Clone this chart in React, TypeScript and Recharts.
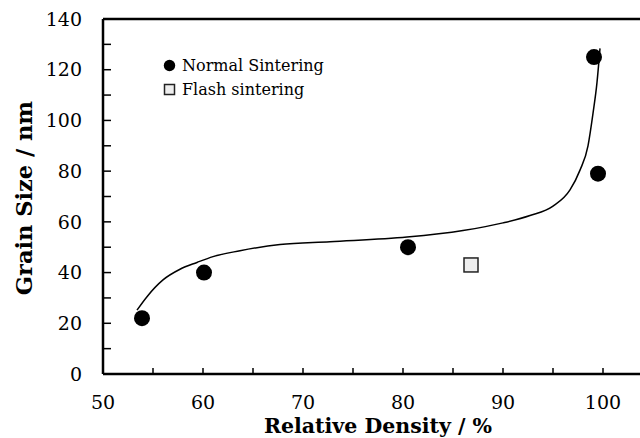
import {
  ComposedChart,
  XAxis,
  YAxis,
  Scatter,
  Line,
  ReferenceLine,
  Label,
} from "recharts";

// measured points
const normalDensity = [53.9, 60.1, 80.5, 99.1, 99.5];
const normalGrain = [22, 40, 50, 125, 79];
const flashDensity = [86.8];
const flashGrain = [43];

// trendline as drawn in the figure
const trendDensity = [53.4, 54.4, 56, 57.7, 59.4, 61, 63.7, 67.7, 72.7, 80.4, 86, 90, 92.7, 95, 96.7, 97.7, 98.5, 99, 99.4, 99.7];
const trendGrain = [25.2, 30.5, 37.1, 41.3, 44, 46.3, 48.6, 51.1, 52.2, 54, 56.6, 59.6, 62.5, 66.2, 72.6, 80.4, 90, 102.8, 115, 128.4];

const xTicks = [50, 55, 60, 65, 70, 75, 80, 85, 90, 95, 100];
const yTicks = [0, 10, 20, 30, 40, 50, 60, 70, 80, 90, 100, 110, 120, 130, 140];

const FONT = "DejaVu Serif";

const normalData = normalDensity.map((x, i) => ({ x, y: normalGrain[i] }));
const flashData = flashDensity.map((x, i) => ({ x, y: flashGrain[i] }));
const trendData = trendDensity.map((x, i) => ({ x, y: trendGrain[i] }));

const Dot = (p: any) => <circle cx={p.cx} cy={p.cy} r={8} fill="#000" />;
const Square = (p: any) => (
  <rect x={p.cx - 7} y={p.cy - 7} width={14} height={14} fill="#eeeeee" stroke="#222" strokeWidth={1.5} />
);

function LegendBox() {
  const row = { display: "flex", alignItems: "center", height: 24, fontFamily: FONT, fontSize: 16, color: "#000" };
  return (
    <div style={{ position: "absolute", left: 163, top: 53 }}>
      <div style={row}>
        <svg width={13} height={13} style={{ marginRight: 6 }}>
          <circle cx={6.5} cy={6.5} r={5.7} fill="#000" />
        </svg>
        Normal Sintering
      </div>
      <div style={row}>
        <svg width={13} height={13} style={{ marginRight: 6 }}>
          <rect x={1.5} y={1.5} width={10} height={10} fill="#eeeeee" stroke="#222" strokeWidth={1.5} />
        </svg>
        Flash sintering
      </div>
    </div>
  );
}

export default function App() {
  return (
    <div style={{ position: "fixed", left: 0, top: 0, width: 640, height: 438, overflow: "hidden", background: "#fff" }}>
      <ComposedChart width={660} height={438} margin={{ top: 19, right: 7, bottom: 0, left: 0 }}>
        <XAxis
          type="number"
          dataKey="x"
          domain={[50, 105]}
          ticks={xTicks}
          allowDataOverflow
          height={64}
          stroke="#000"
          axisLine={{ stroke: "#000", strokeWidth: 2.5 }}
          tickLine={{ stroke: "#000", strokeWidth: 1.5 }}
          tickSize={-6}
          tickMargin={28}
          tick={{ fill: "#000", fontFamily: FONT, fontSize: 19 }}
          tickFormatter={(v: number) => (v % 10 === 0 ? String(v) : "")}
        >
          <Label
            value="Relative Density / %"
            position="insideBottom"
            offset={5}
            fontFamily={FONT}
            fontSize={20.5}
            fontWeight="bold"
            fill="#000"
          />
        </XAxis>
        <YAxis
          type="number"
          domain={[0, 140]}
          ticks={yTicks}
          width={103}
          stroke="#000"
          axisLine={{ stroke: "#000", strokeWidth: 2.5 }}
          tickLine={{ stroke: "#000", strokeWidth: 1.5 }}
          tickSize={-8}
          tickMargin={29}
          tick={{ fill: "#000", fontFamily: FONT, fontSize: 19 }}
          tickFormatter={(v: number) => (v % 20 === 0 ? String(v) : "")}
        >
          <Label
            content={() => (
              <text
                x={32}
                y={198}
                transform="rotate(-90, 32, 198)"
                textAnchor="middle"
                fontFamily={FONT}
                fontSize={22.5}
                fontWeight="bold"
                fill="#000"
              >
                Grain Size / nm
              </text>
            )}
          />
        </YAxis>
        <ReferenceLine y={140} stroke="#000" strokeWidth={2.5} />
        <Line
          data={trendData}
          dataKey="y"
          type="monotone"
          stroke="#000"
          strokeWidth={1.5}
          dot={false}
          activeDot={false}
          isAnimationActive={false}
        />
        <Scatter data={normalData} dataKey="y" shape={Dot} isAnimationActive={false} />
        <Scatter data={flashData} dataKey="y" shape={Square} isAnimationActive={false} />
      </ComposedChart>
      <LegendBox />
    </div>
  );
}
